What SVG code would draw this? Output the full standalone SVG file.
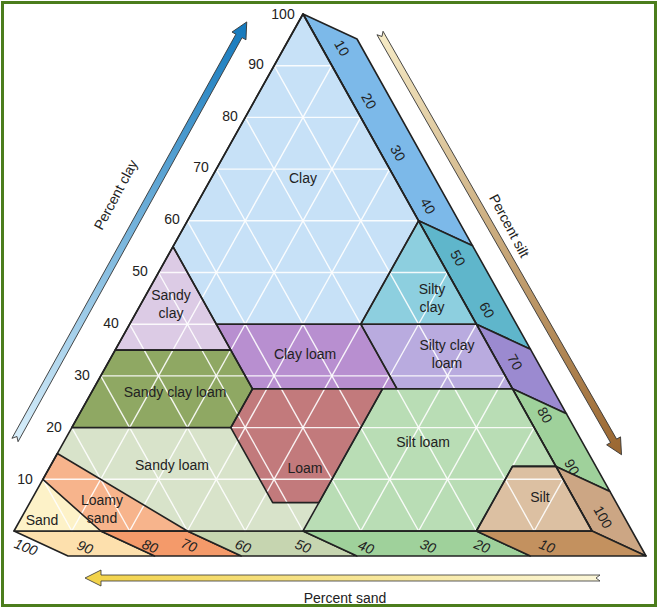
<svg xmlns="http://www.w3.org/2000/svg" width="658" height="609" viewBox="0 0 658 609">
<defs>
<style>
.r{stroke:#222;stroke-width:1.6;stroke-linejoin:round}
.g line{stroke:#fff;stroke-width:1.4;opacity:.9}
.t{font-family:"Liberation Sans",Arial,sans-serif;font-size:14px;fill:#222;text-anchor:middle}
.n{font-family:"Liberation Sans",Arial,sans-serif;font-size:14px;fill:#222;text-anchor:middle}
.i{font-style:italic}
.ar{stroke:#333;stroke-width:0.8}
</style>
<linearGradient id="gb" x1="0" x2="1" y1="0" y2="0"><stop offset="0" stop-color="#d8eefa"/><stop offset="1" stop-color="#1479bd"/></linearGradient>
<linearGradient id="gs" x1="0" x2="1" y1="0" y2="0"><stop offset="0" stop-color="#f6ebc6"/><stop offset="1" stop-color="#9a6630"/></linearGradient>
<linearGradient id="gy" x1="0" x2="1" y1="0" y2="0"><stop offset="0" stop-color="#fbf6d8"/><stop offset="1" stop-color="#f2d248"/></linearGradient>
</defs>
<rect x="0" y="0" width="658" height="609" fill="#fff"/>
<rect x="2.5" y="2.5" width="653" height="603" fill="none" stroke="#4b7d1c" stroke-width="3"/>
<g id="bands">
<polygon class="r" fill="#7cb9e9" points="303,14 418.6,220.8 472.6,245.8 357,39"/>
<polygon class="r" fill="#5fb6cb" points="418.6,220.8 476.4,324.2 530.4,349.2 472.6,245.8"/>
<polygon class="r" fill="#9b8ad0" points="476.4,324.2 512.5,388.8 566.5,413.8 530.4,349.2"/>
<polygon class="r" fill="#9fd19b" points="512.5,388.8 555.9,466.4 609.9,491.4 566.5,413.8"/>
<polygon class="r" fill="#cca684" points="555.9,466.4 592,531 646,556 609.9,491.4"/>
<polygon class="r" fill="#fde0ad" points="14,531 100.7,531 154.7,556 68,556"/>
<polygon class="r" fill="#f49a6a" points="100.7,531 187.4,531 241.4,556 154.7,556"/>
<polygon class="r" fill="#c6d5b0" points="187.4,531 303,531 357,556 241.4,556"/>
<polygon class="r" fill="#9fd19b" points="303,531 476.4,531 530.4,556 357,556"/>
<polygon class="r" fill="#c3915f" points="476.4,531 592,531 646,556 530.4,556"/>
</g>
<g id="regions">
<polygon id="clay" fill="#c7e1f7" points="303,14 418.6,220.8 360.8,324.2 216.3,324.2 173,246.6"/>
<polygon id="silty-clay" fill="#8dcfdf" points="418.6,220.8 476.4,324.2 360.8,324.2"/>
<polygon id="sandy-clay" fill="#dccbe5" points="173,246.6 216.3,324.2 230.8,350.1 115.2,350.1"/>
<polygon id="clay-loam" fill="#b88fd0" points="216.3,324.2 360.8,324.2 397,388.8 252.5,388.8"/>
<polygon id="silty-clay-loam" fill="#b9abdf" points="360.8,324.2 476.4,324.2 512.5,388.8 397,388.8"/>
<polygon id="sandy-clay-loam" fill="#8fa863" points="115.2,350.1 230.8,350.1 252.5,388.8 230.8,427.6 71.8,427.6"/>
<polygon id="loam" fill="#c27a7c" points="252.5,388.8 382.5,388.8 318.9,502.6 272.7,502.6 230.8,427.6"/>
<polygon id="silt-loam" fill="#b9ddb5" points="382.5,388.8 512.5,388.8 555.9,466.4 512.5,466.4 476.4,531 303,531 318.9,502.6"/>
<polygon id="silt" fill="#dcc0a2" points="512.5,466.4 555.9,466.4 592,531 476.4,531"/>
<polygon id="sandy-loam" fill="#d8e3ca" points="71.8,427.6 230.8,427.6 272.7,502.6 318.9,502.6 303,531 187.4,531 57.4,453.5"/>
<polygon id="loamy-sand" fill="#f7b48c" points="57.4,453.5 187.4,531 100.7,531 42.9,479.3"/>
<polygon id="sand" fill="#fdf2c8" points="42.9,479.3 100.7,531 14,531"/>
</g>
<g class="g">
<line x1="42.9" y1="479.3" x2="563.1" y2="479.3"/><line x1="71.8" y1="427.6" x2="534.2" y2="427.6"/><line x1="100.7" y1="375.9" x2="505.3" y2="375.9"/><line x1="129.6" y1="324.2" x2="476.4" y2="324.2"/><line x1="158.5" y1="272.5" x2="447.5" y2="272.5"/><line x1="187.4" y1="220.8" x2="418.6" y2="220.8"/><line x1="216.3" y1="169.1" x2="389.7" y2="169.1"/><line x1="245.2" y1="117.4" x2="360.8" y2="117.4"/><line x1="274.1" y1="65.7" x2="331.9" y2="65.7"/>
<line x1="71.8" y1="531" x2="331.9" y2="65.7"/><line x1="129.6" y1="531" x2="360.8" y2="117.4"/><line x1="187.4" y1="531" x2="389.7" y2="169.1"/><line x1="245.2" y1="531" x2="418.6" y2="220.8"/><line x1="303" y1="531" x2="447.5" y2="272.5"/><line x1="360.8" y1="531" x2="476.4" y2="324.2"/><line x1="418.6" y1="531" x2="505.3" y2="375.9"/><line x1="476.4" y1="531" x2="534.2" y2="427.6"/><line x1="534.2" y1="531" x2="563.1" y2="479.3"/>
<line x1="534.2" y1="531" x2="274.1" y2="65.7"/><line x1="476.4" y1="531" x2="245.2" y2="117.4"/><line x1="418.6" y1="531" x2="216.3" y2="169.1"/><line x1="360.8" y1="531" x2="187.4" y2="220.8"/><line x1="303" y1="531" x2="158.5" y2="272.5"/><line x1="245.2" y1="531" x2="129.6" y2="324.2"/><line x1="187.4" y1="531" x2="100.7" y2="375.9"/><line x1="129.6" y1="531" x2="71.8" y2="427.6"/><line x1="71.8" y1="531" x2="42.9" y2="479.3"/>
</g>
<g id="borders" fill="none" class="r">
<polygon class="r" fill="none" points="303,14 418.6,220.8 360.8,324.2 216.3,324.2 173,246.6"/>
<polygon class="r" fill="none" points="418.6,220.8 476.4,324.2 360.8,324.2"/>
<polygon class="r" fill="none" points="173,246.6 216.3,324.2 230.8,350.1 115.2,350.1"/>
<polygon class="r" fill="none" points="216.3,324.2 360.8,324.2 397,388.8 252.5,388.8"/>
<polygon class="r" fill="none" points="360.8,324.2 476.4,324.2 512.5,388.8 397,388.8"/>
<polygon class="r" fill="none" points="115.2,350.1 230.8,350.1 252.5,388.8 230.8,427.6 71.8,427.6"/>
<polygon class="r" fill="none" points="252.5,388.8 382.5,388.8 318.9,502.6 272.7,502.6 230.8,427.6"/>
<polygon class="r" fill="none" points="382.5,388.8 512.5,388.8 555.9,466.4 512.5,466.4 476.4,531 303,531 318.9,502.6"/>
<polygon class="r" fill="none" points="512.5,466.4 555.9,466.4 592,531 476.4,531"/>
<polygon class="r" fill="none" points="57.4,453.5 187.4,531 100.7,531 42.9,479.3"/>
<polygon class="r" fill="none" points="303,14 592,531 14,531"/>
</g>
<g id="labels">
<text class="t" x="303" y="183">Clay</text>
<text class="t" x="171" y="300">Sandy</text><text class="t" x="171" y="318">clay</text>
<text class="t" x="432" y="294">Silty</text><text class="t" x="432" y="312">clay</text>
<text class="t" x="305" y="359">Clay loam</text>
<text class="t" x="447" y="350">Silty clay</text><text class="t" x="447" y="368">loam</text>
<text class="t" x="175" y="397">Sandy clay loam</text>
<text class="t" x="305" y="473">Loam</text>
<text class="t" x="172" y="470">Sandy loam</text>
<text class="t" x="423" y="447">Silt loam</text>
<text class="t" x="540" y="502">Silt</text>
<text class="t" x="42" y="525">Sand</text>
<text class="t" x="102" y="505">Loamy</text><text class="t" x="102" y="523">sand</text>
</g>
<g id="scale-clay" class="n">
<text x="283" y="19">100</text><text x="256" y="69">90</text><text x="230" y="121">80</text><text x="201" y="172">70</text><text x="172" y="224">60</text><text x="140" y="276">50</text><text x="111" y="328">40</text><text x="82" y="380">30</text><text x="54" y="432">20</text><text x="25" y="484">10</text>
</g>
<g id="scale-silt" class="n">
<text transform="translate(342,48) rotate(61)" y="5">10</text>
<text transform="translate(369,101) rotate(61)" y="5">20</text>
<text transform="translate(398,153) rotate(61)" y="5">30</text>
<text transform="translate(428,206) rotate(61)" y="5">40</text>
<text transform="translate(458,258) rotate(61)" y="5">50</text>
<text transform="translate(487,310) rotate(61)" y="5">60</text>
<text transform="translate(515,362) rotate(61)" y="5">70</text>
<text transform="translate(545,415) rotate(61)" y="5">80</text>
<text transform="translate(572,467) rotate(61)" y="5">90</text>
<text transform="translate(603,517) rotate(61)" y="5">100</text>
</g>
<g id="scale-sand" class="n i">
<text transform="translate(26,547) rotate(22)" y="5">100</text>
<text transform="translate(85,547) rotate(22)" y="5">90</text>
<text transform="translate(150,546) rotate(22)" y="5">80</text>
<text transform="translate(189,545) rotate(22)" y="5">70</text>
<text transform="translate(243,546) rotate(22)" y="5">60</text>
<text transform="translate(303,546) rotate(22)" y="5">50</text>
<text transform="translate(366,547) rotate(22)" y="5">40</text>
<text transform="translate(428,546) rotate(22)" y="5">30</text>
<text transform="translate(482,546) rotate(22)" y="5">20</text>
<text transform="translate(547,546) rotate(22)" y="5">10</text>
</g>
<g id="arrows">
<g transform="translate(15,440) rotate(-61)"><path class="ar" fill="url(#gb)" d="M0,-3.5 L462,-3.5 L462,-8 L478,0 L462,8 L462,3.5 L0,3.5 L4,0 Z"/></g>
<g transform="translate(380,33) rotate(60.2)"><path class="ar" fill="url(#gs)" d="M0,-3.5 L470,-3.5 L470,-8 L486,0 L470,8 L470,3.5 L0,3.5 L4,0 Z"/></g>
<g transform="translate(600,578) rotate(180)"><path class="ar" fill="url(#gy)" d="M0,-3 L499,-3 L499,-8 L515,0 L499,8 L499,3 L0,3 L4,0 Z"/></g>
</g>
<g id="axis-titles" class="t">
<text transform="translate(120,197) rotate(-62)">Percent clay</text>
<text transform="translate(505,228) rotate(62)">Percent silt</text>
<text x="345" y="603">Percent sand</text>
</g>
</svg>
